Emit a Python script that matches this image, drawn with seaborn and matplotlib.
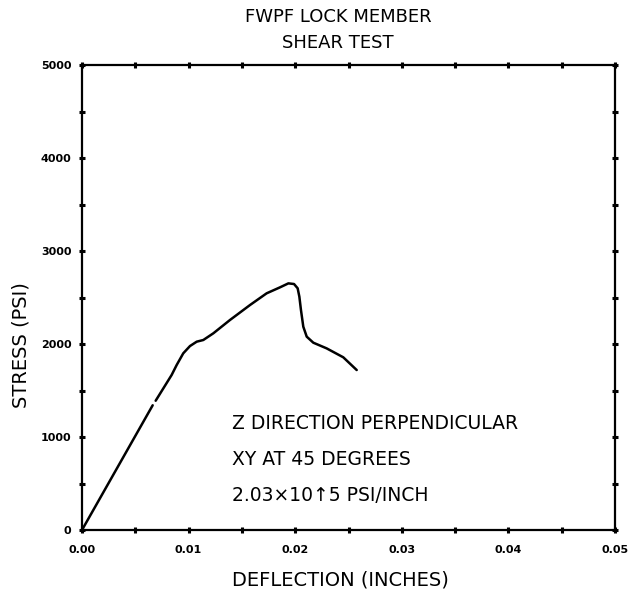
import numpy as np
import pandas as pd
import matplotlib
matplotlib.use("Agg")
import matplotlib.pyplot as plt
import seaborn as sns

# Data (deflection in inches, stress in psi)
seg1_x = [0.0, 0.00663]
seg1_y = [0, 1341]
seg2_x = [0.00691, 0.00841, 0.00888, 0.00950, 0.01013, 0.01076, 0.01138, 0.01232,
          0.01388, 0.01576, 0.01732, 0.01857, 0.01936, 0.01989, 0.02023, 0.02039,
          0.02054, 0.02076, 0.02108, 0.02170, 0.02295, 0.02451, 0.02577]
seg2_y = [1390, 1667, 1774, 1900, 1978, 2025, 2043, 2115,
          2258, 2419, 2545, 2609, 2652, 2645, 2599, 2509,
          2366, 2186, 2079, 2014, 1953, 1857, 1720]

x_ticks = [0.00, 0.01, 0.02, 0.03, 0.04, 0.05]
x_tick_labels = ["0.00", "0.01", "0.02", "0.03", "0.04", "0.05"]
y_ticks = [0, 1000, 2000, 3000, 4000, 5000]
y_tick_labels = ["0", "1000", "2000", "3000", "4000", "5000"]

title_lines = ["FWPF LOCK MEMBER", "SHEAR TEST"]
notes = ["Z DIRECTION PERPENDICULAR", "XY AT 45 DEGREES", "2.03\u00d710\u21915 PSI/INCH"]
note_y = [1140, 753, 376]

df = pd.DataFrame({
    "x": seg1_x + seg2_x,
    "y": seg1_y + seg2_y,
    "seg": [0] * len(seg1_x) + [1] * len(seg2_x),
})

sns.set_style("white")
plt.rcParams["font.family"] = ["DejaVu Sans"]
plt.rcParams["text.color"] = "black"
plt.rcParams["axes.labelcolor"] = "black"
plt.rcParams["xtick.color"] = "black"
plt.rcParams["ytick.color"] = "black"

fig = plt.figure(figsize=(6.39, 5.98), dpi=100)
ax = fig.add_axes([82 / 639, 1 - 530 / 598, (615 - 82) / 639, (530 - 65) / 598])

sns.lineplot(data=df, x="x", y="y", units="seg", estimator=None, color="black",
             linewidth=1.8, ax=ax, sort=False)

ax.set_xlim(0, 0.05)
ax.set_ylim(0, 5000)
ax.set_xticks(x_ticks)
ax.set_xticklabels(x_tick_labels, fontsize=8, fontweight="bold")
ax.set_yticks(y_ticks)
ax.set_yticklabels(y_tick_labels, fontsize=8, fontweight="bold")
ax.set_xticks(np.arange(0.005, 0.05, 0.01), minor=True)
ax.set_yticks(np.arange(500, 5000, 1000), minor=True)
ax.tick_params(which="both", direction="inout", length=5, width=2.2, color="black",
               top=True, right=True, bottom=True, left=True)
ax.tick_params(axis="x", which="major", pad=8)
ax.tick_params(axis="y", which="major", pad=5)
for s in ax.spines.values():
    s.set_linewidth(1.6)
    s.set_color("black")

ax.set_xlabel("DEFLECTION (INCHES)", fontsize=14)
ax.set_ylabel("STRESS (PSI)", fontsize=14)
ax.xaxis.set_label_coords((340 - 82) / 533, -(571 - 530) / 465)
ax.yaxis.set_label_coords((31 - 82) / 533, (530 - 345) / 465)

for txt, yy in zip(notes, note_y):
    ax.text(0.01405, yy, txt, fontsize=13.5, va="center", ha="left", color="black")

fig.text(338 / 639, 1 - 17 / 598, title_lines[0], ha="center", va="center", fontsize=13)
fig.text(338 / 639, 1 - 43 / 598, title_lines[1], ha="center", va="center", fontsize=13)

fig.savefig("out.png", dpi=100, facecolor="white")
